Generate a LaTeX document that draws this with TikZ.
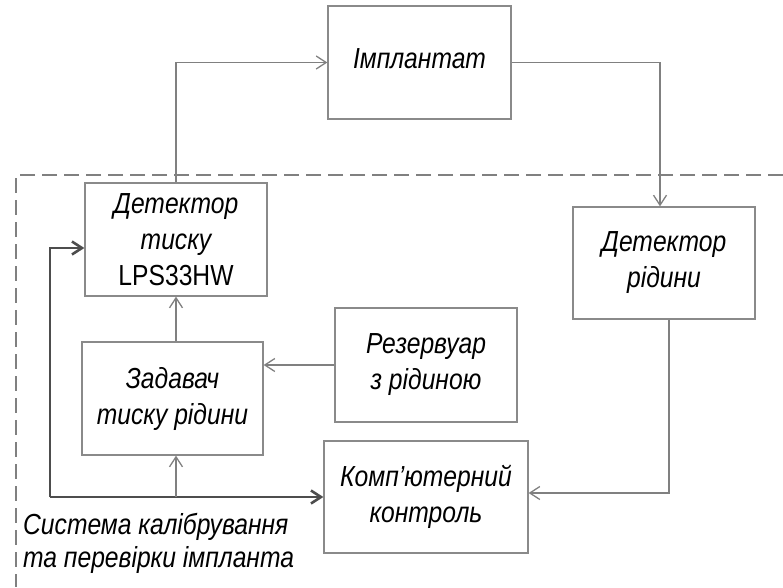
\documentclass[tikz,border=0pt]{standalone}
\usepackage{fontspec}
\setmainfont{Liberation Sans}[FakeStretch=0.85]
\usetikzlibrary{arrows.meta}
\definecolor{boxgray}{HTML}{8A8A8A}
\definecolor{linegray}{HTML}{808080}
\definecolor{darkline}{HTML}{4D4D4D}
\begin{document}
\begin{tikzpicture}[x=1pt,y=-1pt,
  box/.style={draw=boxgray, line width=1.3pt, inner sep=0pt, align=center,
    font=\fontsize{29}{36}\selectfont\itshape},
  conn/.style={draw=linegray, line width=1.3pt, -{Straight Barb[length=10pt,width=13pt]}},
  thickconn/.style={draw=darkline, line width=2.6pt, -{Straight Barb[length=10pt,width=13pt]}},
  frame/.style={draw=linegray, line width=1.3pt, dash pattern=on 15pt off 7pt},
  caption/.style={anchor=west, align=left, inner sep=0pt, font=\fontsize{29}{33}\selectfont\itshape}]
\useasboundingbox (0,0) rectangle (783,587);
\draw[frame] (783,175) -- (16,175) -- (16,587);
\node[box, minimum width=183pt, minimum height=113pt] (imp) at (419.5,62.5) {\raisebox{7pt}{Імплантат}};
\node[box, minimum width=182pt, minimum height=113pt] (dt) at (176,239.5) {Детектор\\тиску\\\upshape LPS33HW};
\node[box, minimum width=182pt, minimum height=112pt] (dr) at (664,263) {Детектор\\рідини};
\node[box, minimum width=181pt, minimum height=113pt] (zad) at (172.5,398.5) {Задавач\\тиску рідини};
\node[box, minimum width=182pt, minimum height=114pt] (res) at (426,365) {Резервуар\\з рідиною};
\node[box, minimum width=204pt, minimum height=112pt] (kom) at (426,497) {Комп'ютерний\\контроль};
\node[caption] (cap) at (23,543.5) {Система калібрування\\та перевірки імпланта};
\coordinate (c) at (50,497);
\draw[conn] (dt.north) |- (imp.west);
\draw[conn] (imp.east) -| ([xshift=-4pt]dr.north);
\draw[conn] ([xshift=5pt]dr.south) |- ([yshift=4pt]kom.east);
\draw[conn] (res.west) -- (res.west -| zad.east);
\draw[conn] (dt.south |- zad.north) -- (dt.south);
\draw[thickconn] (c) |- ([yshift=-8.5pt]dt.west);
\draw[thickconn] (c) -- (c -| kom.west);
\draw[conn] (dt.south |- c) -- (dt.south |- zad.south);
\end{tikzpicture}
\end{document}
